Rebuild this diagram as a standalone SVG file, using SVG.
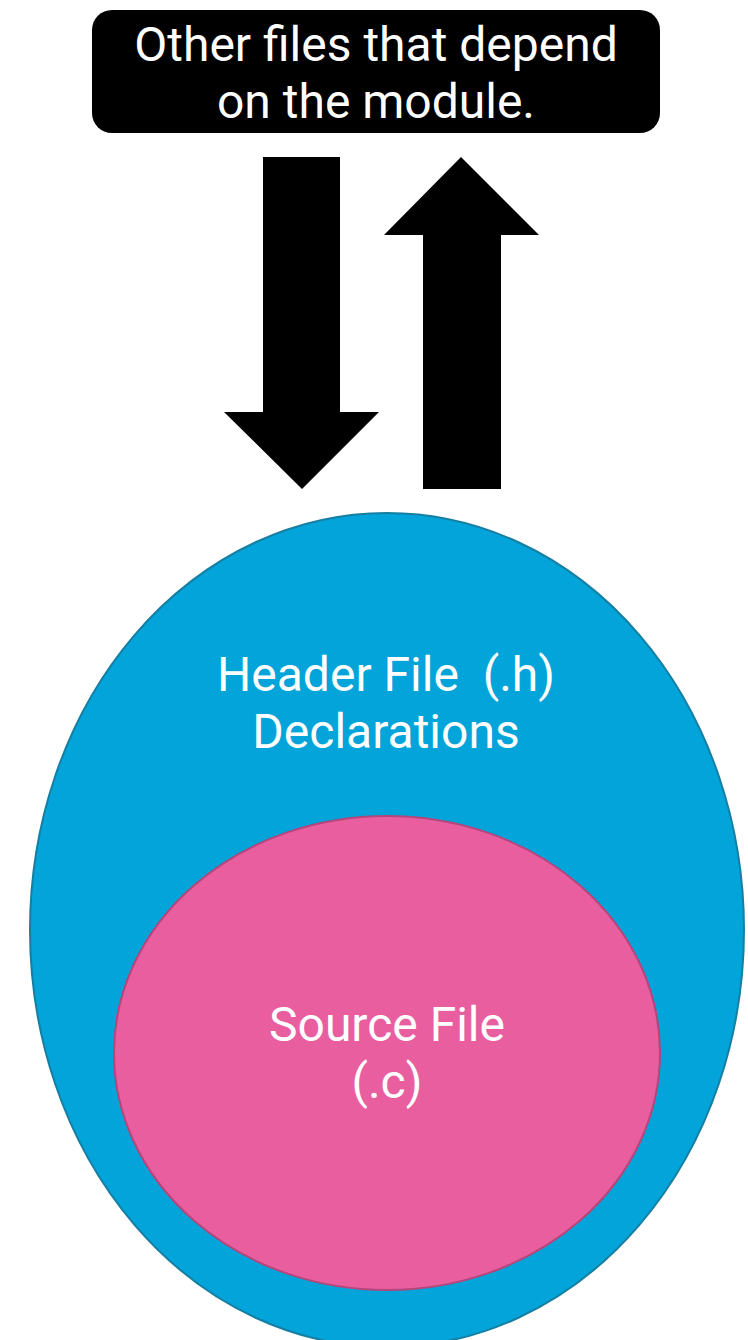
<svg xmlns="http://www.w3.org/2000/svg" width="748" height="1340" viewBox="0 0 748 1340">
  <style>
    .label { font-family: Roboto, "Liberation Sans", sans-serif; font-size: 48px; fill: #ffffff; text-anchor: middle; white-space: pre; }
    .arrow { fill: #000000; }
  </style>
  <rect width="748" height="1340" fill="#ffffff"/>

  <!-- dependent files box -->
  <g id="dependents">
    <rect x="92" y="10" width="568" height="123" rx="20" ry="20" fill="#000000"/>
    <text class="label" x="376" y="61">Other files that depend</text>
    <text class="label" x="376" y="118">on the module.</text>
  </g>

  <!-- block arrows between the dependents and the module -->
  <g id="connectors">
    <polygon class="arrow" points="263,157 340,157 340,412 379,412 302,489 224,412 263,412"/>
    <polygon class="arrow" points="461,157 539,235 501,235 501,489 423,489 423,235 384,235"/>
  </g>

  <!-- header file: outer ellipse -->
  <g id="header">
    <ellipse cx="387" cy="930" rx="357" ry="417" fill="#02A4D9" stroke="#157FA3" stroke-width="2"/>
    <text class="label" x="386" y="691" xml:space="preserve">Header File  (.h)</text>
    <text class="label" x="386" y="748">Declarations</text>
  </g>

  <!-- source file: inner ellipse -->
  <g id="source">
    <ellipse cx="387" cy="1053" rx="273" ry="237" fill="#E85E9F" stroke="#B5467C" stroke-width="2"/>
    <text class="label" x="387" y="1041">Source File</text>
    <text class="label" x="387" y="1098">(.c)</text>
  </g>
</svg>
